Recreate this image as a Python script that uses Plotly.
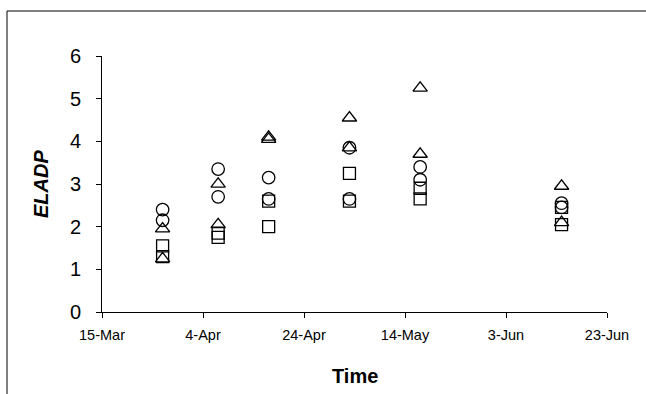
import plotly.graph_objects as go

dates = ["2005-03-27", "2005-04-07", "2005-04-17", "2005-05-03", "2005-05-17", "2005-06-14"]

circles_a = [2.4, 3.35, 3.15, 3.85, 3.4, 2.55]
circles_b = [2.15, 2.7, 2.65, 2.65, 3.1, 2.45]
triangles_a = [1.95, 3.0, 4.1, 4.55, 5.25, 2.95]
triangles_b = [1.25, 2.05, 4.05, 3.85, 3.7, 2.1]
squares_a = [1.55, 1.85, 2.6, 3.25, 2.9, 2.45]
squares_b = [1.3, 1.75, 2.0, 2.6, 2.65, 2.05]

x_ticks = ["2005-03-15", "2005-04-04", "2005-04-24", "2005-05-14", "2005-06-03", "2005-06-23"]
x_tick_labels = ["15-Mar", "4-Apr", "24-Apr", "14-May", "3-Jun", "23-Jun"]
y_ticks = [0, 1, 2, 3, 4, 5, 6]

FONT = "Liberation Sans, Arial, sans-serif"

fig = go.Figure()

def add(vals, symbol, size):
    fig.add_trace(go.Scatter(
        x=dates, y=vals, mode="markers",
        marker=dict(symbol=symbol, size=size, color="black",
                    line=dict(color="black", width=1.3)),
        showlegend=False, cliponaxis=False))

add(circles_a, "circle-open", 12.5)
add(circles_b, "circle-open", 12.5)
add(triangles_a, "triangle-up-open", 12.5)
add(triangles_b, "triangle-up-open", 12.5)
add(squares_a, "square-open", 12)
add(squares_b, "square-open", 12)

fig.update_layout(
    width=646, height=394,
    margin=dict(l=102, r=39, t=56, b=82),
    paper_bgcolor="white", plot_bgcolor="white",
    font=dict(family=FONT, color="black"),
    xaxis=dict(
        range=["2005-03-15", "2005-06-23"],
        tickmode="array", tickvals=x_ticks, ticktext=x_tick_labels,
        ticks="outside", ticklen=5, tickcolor="black", tickwidth=1,
        showline=True, linecolor="black", linewidth=1,
        showgrid=False, zeroline=False,
        tickfont=dict(size=14.5, family=FONT),
        ticklabelstandoff=5,
    ),
    yaxis=dict(
        range=[0, 6], tickmode="array", tickvals=y_ticks,
        ticks="outside", ticklen=5, tickcolor="black", tickwidth=1,
        showline=True, linecolor="black", linewidth=1,
        showgrid=False, zeroline=False,
        tickfont=dict(size=20, family=FONT),
        ticklabelstandoff=11,
    ),
    annotations=[
        dict(text="<b><i>ELADP</i></b>", xref="paper", yref="paper",
             x=0, y=0.5, xshift=-61, textangle=-90, showarrow=False,
             xanchor="center", yanchor="middle", font=dict(size=20, family=FONT)),
        dict(text="<b>Time</b>", xref="paper", yref="paper",
             x=0.5, y=0, yshift=-64, showarrow=False,
             xanchor="center", yanchor="middle", font=dict(size=20, family=FONT)),
    ],
    shapes=[
        dict(type="rect", xref="paper", yref="paper",
             xsizemode="pixel", ysizemode="pixel", xanchor=0, yanchor=1,
             x0=-95, x1=600, y0=-400, y1=45,
             line=dict(color="black", width=1), fillcolor="rgba(0,0,0,0)"),
    ],
)

fig.write_html(
    "out.html",
    config={"displayModeBar": False},
    post_script="document.body.style.margin='0';document.body.style.overflow='hidden';",
)
